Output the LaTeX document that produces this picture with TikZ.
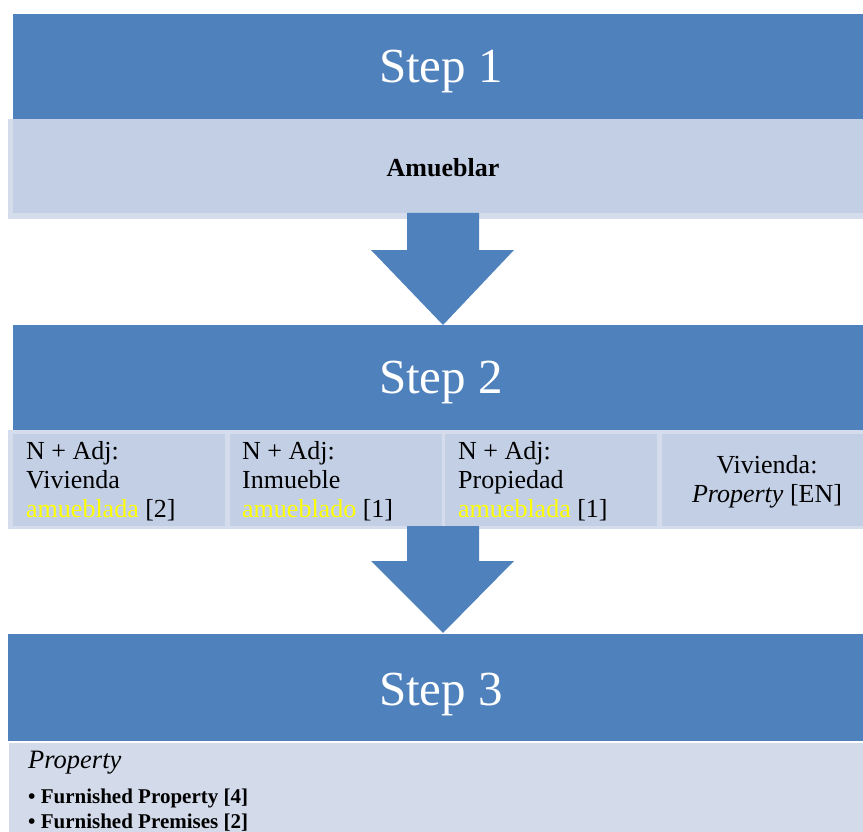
\documentclass[tikz,border=0pt]{standalone}
\usepackage{fontspec}
\setmainfont{Liberation Serif}
\usetikzlibrary{calc}
\definecolor{stepblue}{HTML}{4F81BD}
\definecolor{paneblue}{HTML}{C3CFE5}
\definecolor{paneedge}{HTML}{D5DCEC}
\definecolor{listpane}{HTML}{D3DBEB}
\definecolor{hilite}{HTML}{FFFF00}
\begin{document}
\begin{tikzpicture}[x=1pt,y=-1pt,
  block/.style={draw=none,inner sep=0pt,outer sep=0pt,anchor=north west},
  band/.style={block,fill=stepblue},
  pane/.style={block,fill=paneblue},
  edge/.style={block,fill=paneedge},
  steplabel/.style={inner sep=0pt,anchor=base,text=white,font=\fontsize{49}{49}\selectfont},
  celltext/.style={inner sep=0pt,align=left,anchor=north west,font=\fontsize{26}{29}\selectfont},
  listline/.style={inner sep=0pt,anchor=base west,font=\fontsize{21}{21}\selectfont\bfseries}]
\useasboundingbox (0,0) rectangle (863,832);

% ---- Step 1 ----
\node[band,minimum width=850pt,minimum height=105pt] (s1) at (13,14) {};
\node[steplabel] (s1t) at (441,83) {Step 1};
\node[edge,minimum width=855pt,minimum height=100pt] (p1o) at (8,119) {};
\node[pane,minimum width=850pt,minimum height=94pt] (p1) at (13,119) {};
\node[inner sep=0pt,anchor=base,font=\fontsize{26}{26}\selectfont\bfseries] (p1t) at (443,177) {Amueblar};

% ---- Step 2 ----
\node[band,minimum width=850pt,minimum height=105pt] (s2) at (13,325) {};
\node[steplabel] (s2t) at (441,393) {Step 2};
\node[edge,minimum width=855pt,minimum height=99pt] (p2o) at (8,430) {};
\node[pane,minimum width=212pt,minimum height=92pt] (c1) at (13,434) {};
\node[pane,minimum width=212pt,minimum height=92pt] (c2) at (230,434) {};
\node[pane,minimum width=212pt,minimum height=92pt] (c3) at (445,434) {};
\node[pane,minimum width=201pt,minimum height=92pt] (c4) at (662,434) {};
\node[celltext] (c1t) at (26,441) {N + Adj:\\Vivienda\\\textcolor{hilite}{amueblada} [2]};
\node[celltext] (c2t) at (242,441) {N + Adj:\\Inmueble\\\textcolor{hilite}{amueblado} [1]};
\node[celltext] (c3t) at (458,441) {N + Adj:\\Propiedad\\\textcolor{hilite}{amueblada} [1]};
\node[celltext,align=center,anchor=north] (c4t) at (767,455) {Vivienda:\\\textit{Property} [EN]};

% ---- Step 3 ----
\node[band,minimum width=855pt,minimum height=107pt] (s3) at (8,634) {};
\node[steplabel] (s3t) at (441,705) {Step 3};
\node[block,fill=listpane,minimum width=854pt,minimum height=90pt] (p3) at (9,743) {};
\node[inner sep=0pt,anchor=base west,font=\fontsize{26.5}{26.5}\selectfont\itshape] (l0) at (28,768) {Property};
\node[listline] (l1) at (28,803) {• Furnished Property [4]};
\node[listline] (l2) at (28,828) {• Furnished Premises [2]};

% ---- block arrows between the steps ----
\coordinate (a1) at (443,213);
\coordinate (a2) at (443,526);
\fill[stepblue] ($(a1)+(-36,0)$) -- ($(a1)+(36,0)$) -- ($(a1)+(36,37)$) -- ($(a1)+(71,37)$)
  -- (s2.north -| a1) -- ($(a1)+(-72,37)$) -- ($(a1)+(-36,37)$) -- cycle;
\fill[stepblue] ($(a2)+(-36,0)$) -- ($(a2)+(36,0)$) -- ($(a2)+(36,35)$) -- ($(a2)+(71,35)$)
  -- ($(s3.north -| a2)+(0,-1)$) -- ($(a2)+(-72,35)$) -- ($(a2)+(-36,35)$) -- cycle;
\end{tikzpicture}
\end{document}
